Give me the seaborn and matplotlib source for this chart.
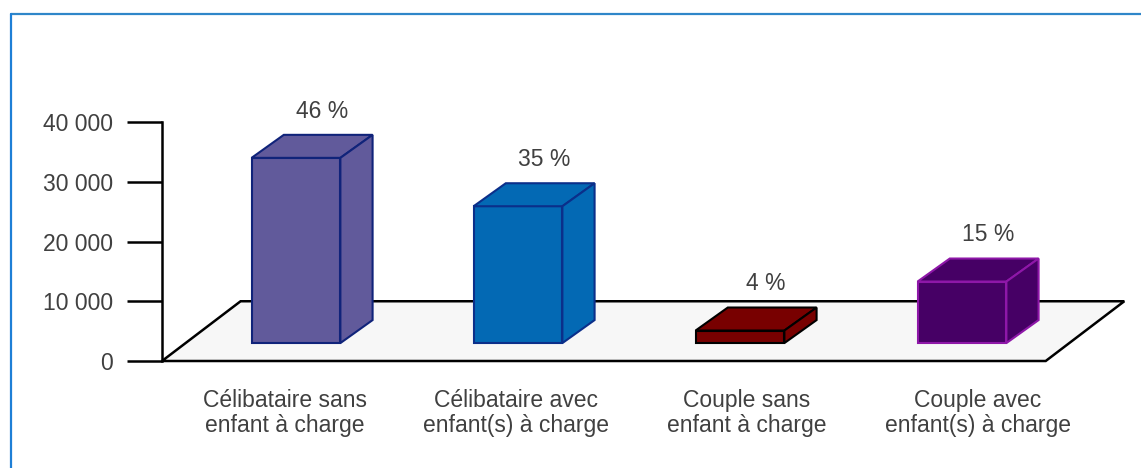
import numpy as np
import pandas as pd
import matplotlib
matplotlib.use("Agg")
import matplotlib.pyplot as plt
from matplotlib.patches import Polygon
from matplotlib.lines import Line2D
import seaborn as sns

# Donnees
categories = [
    "Célibataire sans\nenfant à charge",
    "Célibataire avec\nenfant(s) à charge",
    "Couple sans\nenfant à charge",
    "Couple avec\nenfant(s) à charge",
]
effectifs = [31000, 22900, 2100, 10300]
pourcentages = ["46 %", "35 %", "4 %", "15 %"]
y_ticks = [0, 10000, 20000, 30000, 40000]
y_tick_labels = ["0", "10 000", "20 000", "30 000", "40 000"]

face_colors = ["#615a9b", "#0369b4", "#780000", "#460065"]
edge_colors = ["#10237a", "#0b2f8a", "#000000", "#8e17a8"]

# Geometrie de la pseudo-3D (unites de donnees)
W, H = 1141, 468
PX_X = 222.0            # pixels par categorie
X0_PX = 296.0           # pixel du centre de la 1re barre
FLOOR_DX, FLOOR_DY = 0.354, 10000
BAR_DX, BAR_DY = 0.145, 3850
BAR_BASE = 0.3 * FLOOR_DY
TEXT = "#404040"
FS = 16.5

sns.set_style("white")
plt.rcParams["font.family"] = ["Liberation Sans", "DejaVu Sans"]

fig = plt.figure(figsize=(W / 100, H / 100), dpi=100)
ax = fig.add_axes([162 / W, 1 - 361 / H, (1130 - 162) / W, 239 / H])

df = pd.DataFrame({"categorie": categories, "effectif": effectifs})
sns.barplot(data=df, x="categorie", y="effectif", hue="categorie",
            palette=face_colors, width=0.4, errorbar=None, legend=False,
            saturation=1, ax=ax, zorder=3)

xl = ((162 - X0_PX) / PX_X, (1130 - X0_PX) / PX_X)
ax.set_xlim(*xl)
ax.set_ylim(0, 40000)

# sol
fl_left, fl_right = xl[0], (1045.7 - X0_PX) / PX_X
floor = Polygon([(fl_left, 0), (fl_right, 0),
                 (fl_right + FLOOR_DX, FLOOR_DY), (fl_left + FLOOR_DX, FLOOR_DY)],
                closed=True, facecolor="#f7f7f7", edgecolor="black",
                linewidth=1.8, zorder=1, clip_on=False, joinstyle="miter")
ax.add_patch(floor)

# barres en 3D
for p, fc, ec, lab in zip(list(ax.patches)[:len(categories)], face_colors,
                          edge_colors, pourcentages):
    p.set_y(BAR_BASE)
    p.set_edgecolor(ec)
    p.set_linewidth(1.5)
    p.set_clip_on(False)
    x0, w, h = p.get_x(), p.get_width(), p.get_height()
    y0, y1 = BAR_BASE, BAR_BASE + h
    top = Polygon([(x0, y1), (x0 + w, y1), (x0 + w + BAR_DX, y1 + BAR_DY),
                   (x0 + BAR_DX, y1 + BAR_DY)], closed=True, facecolor=fc,
                  edgecolor=ec, linewidth=1.5, zorder=3, clip_on=False)
    side = Polygon([(x0 + w, y0), (x0 + w + BAR_DX, y0 + BAR_DY),
                    (x0 + w + BAR_DX, y1 + BAR_DY), (x0 + w, y1)], closed=True,
                   facecolor=fc, edgecolor=ec, linewidth=1.5, zorder=3,
                   clip_on=False)
    ax.add_patch(top)
    ax.add_patch(side)
    ax.annotate(lab, (x0 + w / 2 + BAR_DX * 0.8, y1 + BAR_DY),
                xytext=(0, 17), textcoords="offset points", ha="center",
                va="center", fontsize=FS, color=TEXT, annotation_clip=False)

# axes
for s in ["top", "right", "bottom"]:
    ax.spines[s].set_visible(False)
ax.spines["left"].set_linewidth(1.8)
ax.spines["left"].set_color("black")
ax.set_yticks(y_ticks, y_tick_labels)
ax.tick_params(axis="y", length=25, width=1.8, pad=10.5, labelsize=FS,
               labelcolor=TEXT, direction="out", left=True, color="black")
label_pos = np.arange(len(categories)) * 1.04 - 0.05
ax.set_xticks(label_pos, categories)
ax.tick_params(axis="x", length=0, pad=20, labelsize=FS, labelcolor=TEXT)
for t in ax.get_xticklabels():
    t.set_linespacing(1.13)
ax.set_xlabel("")
ax.set_ylabel("")
ax.patch.set_alpha(0)

# cadre bleu
fig.add_artist(Line2D([10.5 / W, 1], [1 - 13.5 / H] * 2, color="#2f86c9", lw=1.6))
fig.add_artist(Line2D([10.5 / W] * 2, [0, 1 - 13.5 / H], color="#1e7fd6", lw=1.6))

fig.savefig("out.png", dpi=100)
